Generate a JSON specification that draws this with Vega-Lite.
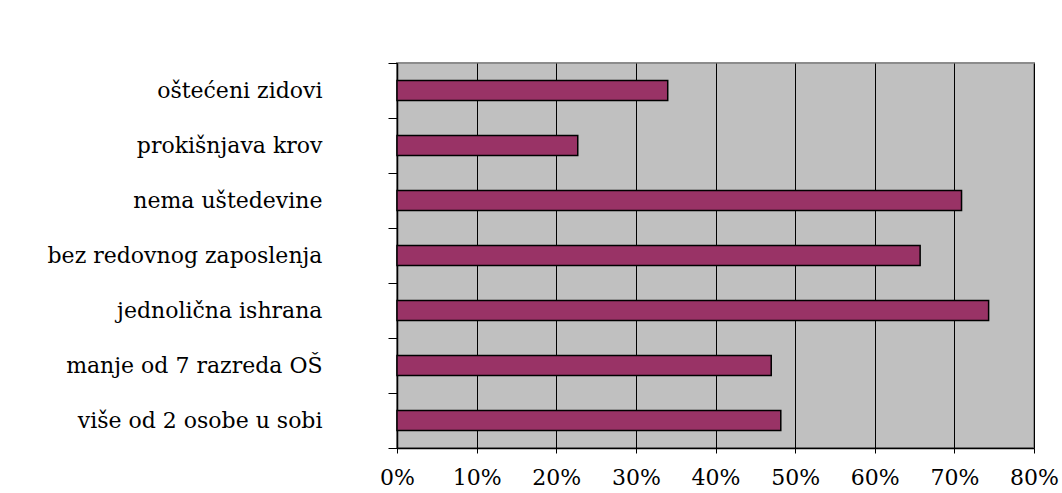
{
  "$schema": "https://vega.github.io/schema/vega-lite/v6.json",
  "autosize": "none",
  "width": 637,
  "height": 385,
  "padding": {"left": 397, "top": 63, "right": 28, "bottom": 45},
  "background": "white",
  "data": {
    "values": [
      {"kategorija": "oštećeni zidovi", "udio": 0.34},
      {"kategorija": "prokišnjava krov", "udio": 0.227},
      {"kategorija": "nema uštedevine", "udio": 0.709},
      {"kategorija": "bez redovnog zaposlenja", "udio": 0.657},
      {"kategorija": "jednolična ishrana", "udio": 0.743},
      {"kategorija": "manje od 7 razreda OŠ", "udio": 0.47},
      {"kategorija": "više od 2 osobe u sobi", "udio": 0.482}
    ]
  },
  "mark": {"type": "bar", "color": "#993366", "stroke": "#000000", "strokeWidth": 1.5, "size": 20},
  "encoding": {
    "y": {
      "field": "kategorija",
      "type": "nominal",
      "sort": null,
      "scale": {"paddingInner": 0, "paddingOuter": 0},
      "axis": {
        "title": null,
        "tickBand": "extent",
        "tickSize": 9,
        "tickColor": "#000000",
        "tickWidth": 1,
        "domainColor": "#000000",
        "domainWidth": 1.5,
        "labelPadding": 66,
        "labelLimit": 0,
        "labelFont": "DejaVu Serif",
        "labelFontSize": 22,
        "labelColor": "#000000",
        "labelAlign": "right",
        "labelBaseline": "middle",
        "grid": false
      }
    },
    "x": {
      "field": "udio",
      "type": "quantitative",
      "scale": {"domain": [0, 0.8], "nice": false, "zero": true},
      "axis": {
        "title": null,
        "values": [0, 0.1, 0.2, 0.3, 0.4, 0.5, 0.6, 0.7, 0.8],
        "format": ".0%",
        "tickSize": 5,
        "tickColor": "#000000",
        "domainColor": "#000000",
        "domainWidth": 1.5,
        "labelPadding": 14,
        "labelFont": "DejaVu Serif",
        "labelFontSize": 22,
        "labelColor": "#000000",
        "labelFlush": false,
        "grid": true,
        "gridColor": "#000000",
        "gridOpacity": 1,
        "gridWidth": 1
      }
    }
  },
  "config": {
    "font": "DejaVu Serif",
    "view": {"fill": "#C0C0C0", "stroke": "#8C8C8C", "strokeWidth": 2}
  }
}
